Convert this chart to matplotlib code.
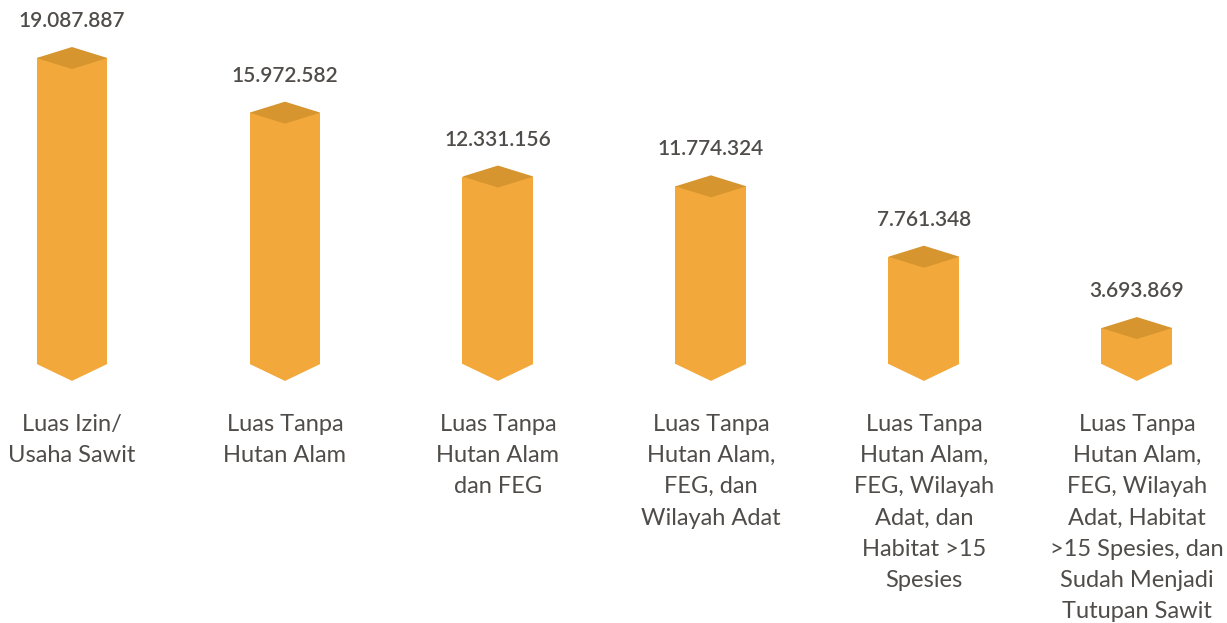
import matplotlib.pyplot as plt
import numpy as np

# Data
categories = [
    "Luas Izin/\nUsaha Sawit",
    "Luas Tanpa\nHutan Alam",
    "Luas Tanpa\nHutan Alam\ndan FEG",
    "Luas Tanpa\nHutan Alam,\nFEG, dan\nWilayah Adat",
    "Luas Tanpa\nHutan Alam,\nFEG, Wilayah\nAdat, dan\nHabitat >15\nSpesies",
    "Luas Tanpa\nHutan Alam,\nFEG, Wilayah\nAdat, Habitat\n>15 Spesies, dan\nSudah Menjadi\nTutupan Sawit",
]
values = [19087887, 15972582, 12331156, 11774324, 7761348, 3693869]
value_labels = ["19.087.887", "15.972.582", "12.331.156", "11.774.324", "7.761.348", "3.693.869"]

# Style
BODY = "#F2A83A"
TOP = "#D6952F"
TEXT = "#4f4c49"
BASE = 1.65e6          # where the prisms start
PX_PER_UNIT = 17.54 / 1e6  # pixels per value unit
TOP_HALF = 11 / PX_PER_UNIT   # half height of top diamond (in data units)
BOTTOM_TIP = 17 / PX_PER_UNIT
W = 0.333

fig = plt.figure(figsize=(12.27, 6.23), dpi=100)
ax = fig.add_axes([0, 0, 1, 1])
ax.set_xlim(-0.338, 5.423)
ax.set_ylim(-13.12e6, 22.395e6)
ax.axis("off")

x = np.arange(len(values))
vals = np.array(values, dtype=float)

ax.bar(x, vals - BASE, bottom=BASE, width=W, color=BODY, linewidth=0, zorder=2)

for xi, v, lab, cat in zip(x, vals, value_labels, categories):
    # top diamond
    ax.fill([xi - W / 2, xi, xi + W / 2, xi],
            [v, v + TOP_HALF, v, v - TOP_HALF],
            color=TOP, linewidth=0, zorder=3)
    # pointed bottom
    ax.fill([xi - W / 2, xi + W / 2, xi],
            [BASE, BASE, BASE - BOTTOM_TIP],
            color=BODY, linewidth=0, zorder=2)
    ax.text(xi, v + TOP_HALF + 26 / PX_PER_UNIT, lab, ha="center", va="center",
            fontsize=15, fontweight="semibold", color=TEXT, family="Lato")
    ax.text(xi, BASE - 50 / PX_PER_UNIT, cat, ha="center", va="top",
            fontsize=17, color=TEXT, family="Lato", linespacing=1.6)

fig.savefig("out.png", dpi=100)
